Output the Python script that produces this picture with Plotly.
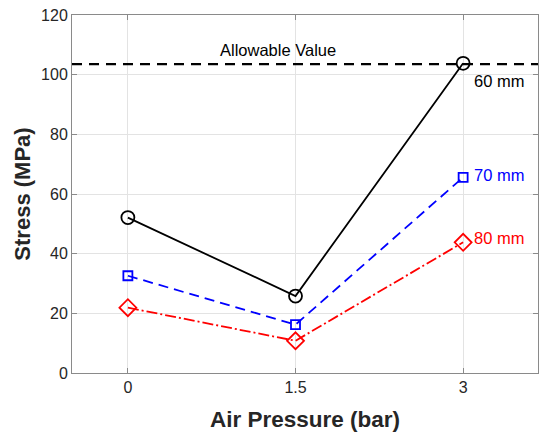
import plotly.graph_objects as go

pressure = [0, 1.5, 3]
stress_60 = [52.1, 25.8, 103.8]
stress_70 = [32.6, 16.2, 65.6]
stress_80 = [21.9, 10.8, 43.8]
allowable = 103.5
x_ticks = [0, 1.5, 3]
x_tick_labels = ["0", "1.5", "3"]
y_ticks = [0, 20, 40, 60, 80, 100, 120]

FONT = "Liberation Sans, Arial, Helvetica, sans-serif"
AXC = "#262626"

fig = go.Figure()
fig.add_trace(go.Scatter(x=[-0.5, 3.67], y=[allowable, allowable], mode="lines",
                         line=dict(color="black", width=2.2, dash="10px,7px"),
                         showlegend=False, hoverinfo="skip"))
fig.add_trace(go.Scatter(x=pressure, y=stress_60, mode="lines+markers", name="60 mm",
                         line=dict(color="black", width=1.8),
                         marker=dict(symbol="circle-open", size=13, color="black",
                                     line=dict(width=1.8))))
fig.add_trace(go.Scatter(x=pressure, y=stress_70, mode="lines+markers", name="70 mm",
                         line=dict(color="blue", width=1.8, dash="10px,6px"),
                         marker=dict(symbol="square-open", size=9, color="blue",
                                     line=dict(width=1.8))))
fig.add_trace(go.Scatter(x=pressure, y=stress_80, mode="lines+markers", name="80 mm",
                         line=dict(color="red", width=1.8, dash="11px,3px,2px,3px"),
                         marker=dict(symbol="diamond-open", size=13, color="red",
                                     line=dict(width=1.8))))

ann_font = dict(family=FONT, size=16.5)
fig.add_annotation(x=1.34, y=108.2, text="Allowable Value", showarrow=False,
                   font=dict(color="black", **ann_font), xanchor="center", yanchor="middle")
fig.add_annotation(x=3.08, y=98.0, text="60 mm", showarrow=False,
                   font=dict(color="black", **ann_font), xanchor="left", yanchor="middle")
fig.add_annotation(x=3.08, y=66.4, text="70 mm", showarrow=False,
                   font=dict(color="blue", **ann_font), xanchor="left", yanchor="middle")
fig.add_annotation(x=3.08, y=45.3, text="80 mm", showarrow=False,
                   font=dict(color="red", **ann_font), xanchor="left", yanchor="middle")

fig.update_layout(
    width=539, height=432,
    margin=dict(l=72, r=1, t=15, b=59),
    paper_bgcolor="white", plot_bgcolor="white",
    showlegend=False,
    font=dict(family=FONT, color=AXC),
    xaxis=dict(range=[-0.5, 3.67], tickvals=x_ticks, ticktext=x_tick_labels,
               showgrid=True, gridcolor="#e3e3e3", gridwidth=1, zeroline=False,
               showline=True, linecolor="#8a8a8a", linewidth=1, mirror="ticks",
               ticks="inside", ticklen=5, tickcolor="#8a8a8a",
               tickfont=dict(size=16, color=AXC),
               title=dict(text="<b>Air Pressure (bar)</b>", font=dict(size=22.5, color=AXC),
                          standoff=16)),
    yaxis=dict(range=[0, 120], tickvals=y_ticks,
               showgrid=True, gridcolor="#e3e3e3", gridwidth=1, zeroline=False,
               showline=True, linecolor="#8a8a8a", linewidth=1, mirror="ticks",
               ticks="inside", ticklen=5, tickcolor="#8a8a8a",
               tickfont=dict(size=16, color=AXC),
               title=dict(text="<b>Stress (MPa)</b>", font=dict(size=22, color=AXC),
                          standoff=4)),
)

fig.write_html("out.html", config={"displayModeBar": False},
               post_script="document.body.style.margin='0';document.body.style.overflow='hidden';")
